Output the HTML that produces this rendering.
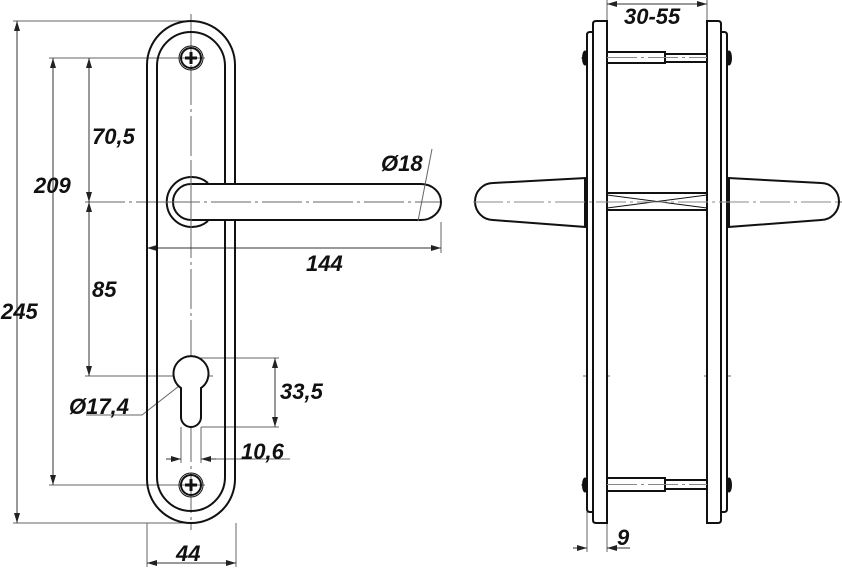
<!DOCTYPE html>
<html><head><meta charset="utf-8"><style>
html,body{margin:0;padding:0;background:#fff;}
svg{display:block;}
text{font-family:"Liberation Sans",sans-serif;font-weight:bold;font-style:italic;font-size:22px;fill:#111;}
</style></head><body>
<svg width="842" height="570" viewBox="0 0 842 570" xmlns="http://www.w3.org/2000/svg">
<defs>
<marker id="a" viewBox="0 0 10 6" refX="10" refY="3" markerWidth="10" markerHeight="6" orient="auto-start-reverse" markerUnits="userSpaceOnUse"><path d="M0,0 L10,3 L0,6 z" fill="#222"/></marker>
</defs>
<g fill="none" stroke="#666" stroke-width="1">
<line x1="191" y1="14" x2="191" y2="530" stroke-dasharray="40,4,3,4"/>
<line x1="85" y1="202" x2="442" y2="202" stroke-dasharray="40,4,3,4"/>
<line x1="13" y1="21" x2="191" y2="21"/>
<line x1="13" y1="523" x2="191" y2="523"/>
<line x1="49" y1="58" x2="205" y2="58"/>
<line x1="49" y1="485" x2="205" y2="485"/>
<line x1="85" y1="376" x2="213" y2="376"/>
<line x1="191" y1="358" x2="279" y2="358"/>
<line x1="201" y1="427" x2="279" y2="427"/>
<line x1="181" y1="427" x2="181" y2="463"/>
<line x1="201" y1="427" x2="201" y2="463"/>
<line x1="201" y1="459" x2="290" y2="459"/>
<line x1="441" y1="222" x2="441" y2="253"/>
<line x1="147" y1="523" x2="147" y2="567"/>
<line x1="236" y1="523" x2="236" y2="567"/>
<polyline points="202,368 142,415 86,415"/>
<line x1="473" y1="202" x2="842" y2="202" stroke-dasharray="40,4,3,4"/>
<line x1="581" y1="58" x2="731" y2="58" stroke-dasharray="30,4,3,4"/>
<line x1="581" y1="485" x2="731" y2="485" stroke-dasharray="30,4,3,4"/>
<line x1="583" y1="376" x2="610" y2="376"/>
<line x1="704" y1="376" x2="731" y2="376"/>
<line x1="607" y1="0" x2="607" y2="21"/>
<line x1="707" y1="0" x2="707" y2="21"/>
<line x1="587" y1="512" x2="587" y2="552"/>
<line x1="607" y1="523" x2="607" y2="552"/>
</g>
<g stroke="#333" stroke-width="1" fill="none" marker-start="url(#a)" marker-end="url(#a)">
<line x1="17" y1="21" x2="17" y2="523"/>
<line x1="53" y1="58" x2="53" y2="485"/>
<line x1="89" y1="58" x2="89" y2="202"/>
<line x1="89" y1="202" x2="89" y2="376"/>
<line x1="275" y1="358" x2="275" y2="427"/>
<line x1="147" y1="248" x2="441" y2="248"/>
<line x1="147" y1="563" x2="236" y2="563"/>
<line x1="607" y1="4" x2="707" y2="4"/>
</g>
<g stroke="#333" stroke-width="1" fill="none">
<line x1="166" y1="459" x2="181" y2="459" marker-end="url(#a)"/>
<line x1="216" y1="459" x2="201" y2="459" marker-end="url(#a)"/>
<line x1="573" y1="548" x2="587" y2="548" marker-end="url(#a)"/>
<line x1="630" y1="548" x2="607" y2="548" marker-end="url(#a)"/>
</g>
<g fill="none" stroke="#111" stroke-width="2">
<path d="M147,65 A44,44 0 0 1 235,65 L235,479 A44,44 0 0 1 147,479 Z"/>
<path d="M157,66 A34,34 0 0 1 225,66 L225,477 A34,34 0 0 1 157,477 Z"/>
<circle cx="191" cy="58" r="10"/>
<circle cx="191" cy="485" r="10"/>
</g>
<g fill="none" stroke="#111" stroke-width="1">
<circle cx="191" cy="58" r="12"/>
<circle cx="191" cy="485" r="12"/>
</g>
<g stroke="#111" stroke-width="3">
<line x1="185" y1="58" x2="197" y2="58"/><line x1="191" y1="52" x2="191" y2="64"/>
<line x1="185" y1="485" x2="197" y2="485"/><line x1="191" y1="479" x2="191" y2="491"/>
</g>
<path d="M181,388 A17.5,17.5 0 1 1 201,388 L201,417 A10,10 0 0 1 181,417 Z" fill="#fff" stroke="#111" stroke-width="2"/>
<path d="M208,183 A25,25 0 1 0 208,221" fill="#fff" stroke="#111" stroke-width="2"/>
<path d="M191,184 L421,184 A20,18 0 0 1 421,220 L191,220 A18,18 0 0 1 191,184 Z" fill="#fff" stroke="#111" stroke-width="2"/>
<line x1="191" y1="160" x2="191" y2="240" stroke="#666" stroke-width="1"/>
<line x1="160" y1="202" x2="440" y2="202" stroke="#666" stroke-width="1" stroke-dasharray="40,4,3,4"/>
<line x1="432" y1="149" x2="418" y2="221" stroke="#666" stroke-width="1"/>
<g fill="#fff" stroke="#111" stroke-width="2">
<path d="M587,35 Q587,32 590,32 L593,32 L593,512 L590,512 Q587,512 587,509 Z"/>
<path d="M593,24 Q593,21 596,21 L607,21 L607,523 L596,523 Q593,523 593,520 Z"/>
<path d="M727,35 Q727,32 724,32 L721,32 L721,512 L724,512 Q727,512 727,509 Z"/>
<path d="M721,24 Q721,21 718,21 L707,21 L707,523 L718,523 Q721,523 721,520 Z"/>
<rect x="607" y="52" width="58" height="11"/>
<rect x="665" y="54" width="42" height="8"/>
<rect x="607" y="478" width="58" height="13"/>
<rect x="665" y="480" width="42" height="9"/>
<rect x="607" y="193" width="100" height="17"/>
<path d="M586,178 L493,183 A18,18.5 0 0 0 493,220 L586,227 Z"/>
<path d="M728,178 L821,183 A18,18.5 0 0 1 821,220 L728,227 Z"/>
</g>
<g stroke="#111" stroke-width="1" fill="none">
<line x1="607" y1="195" x2="707" y2="208"/><line x1="607" y1="208" x2="707" y2="195"/>
<ellipse cx="585" cy="58" rx="2.5" ry="7" fill="#111"/>
<ellipse cx="729" cy="58" rx="2.5" ry="7" fill="#111"/>
<ellipse cx="585" cy="485" rx="2.5" ry="7" fill="#111"/>
<ellipse cx="729" cy="485" rx="2.5" ry="7" fill="#111"/>
</g>
<rect x="584" y="178" width="3" height="49" fill="#111"/>
<rect x="727" y="178" width="3" height="49" fill="#111"/>
<g stroke="#888" stroke-width="1" stroke-dasharray="30,4,3,4">
<line x1="607" y1="57.5" x2="707" y2="57.5"/>
<line x1="607" y1="484.5" x2="707" y2="484.5"/>
<line x1="473" y1="202" x2="842" y2="202"/>
</g>
<text x="1" y="319">245</text>
<text x="34" y="193">209</text>
<text x="92" y="144">70,5</text>
<text x="92" y="297">85</text>
<text x="381" y="171">Ø18</text>
<text x="306" y="271">144</text>
<text x="280" y="399">33,5</text>
<text x="69" y="414">Ø17,4</text>
<text x="241" y="459">10,6</text>
<text x="176" y="561">44</text>
<text x="624" y="24">30-55</text>
<text x="617" y="545">9</text>
</svg>
</body></html>
